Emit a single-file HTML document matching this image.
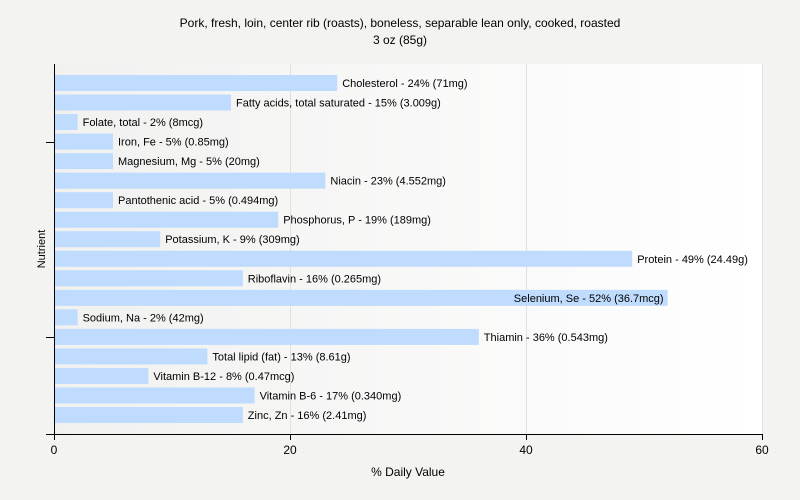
<!DOCTYPE html>
<html><head><meta charset="utf-8"><style>
html,body{margin:0;padding:0;background:#f3f3f2;font-family:"Liberation Sans",sans-serif;overflow:hidden;}
svg{display:block;}
svg text{font-family:"Liberation Sans",sans-serif;}
</style></head><body>
<svg width="800" height="500">
<defs><linearGradient id="bg" x1="0" x2="1" y1="0" y2="0"><stop offset="0" stop-color="#f1f1f0"/><stop offset="1" stop-color="#ffffff"/></linearGradient></defs>
<rect x="0" y="0" width="800" height="500" fill="#f3f3f2"/>
<text x="400" y="27" text-anchor="middle" font-size="12" fill="#000">Pork, fresh, loin, center rib (roasts), boneless, separable lean only, cooked, roasted</text>
<text x="400" y="44" text-anchor="middle" font-size="12" fill="#000">3 oz (85g)</text>
<rect x="54" y="64" width="708" height="370" fill="url(#bg)"/>
<g id="grid"></g>
<g id="bars"></g>
<line x1="54.5" y1="64" x2="54.5" y2="434" stroke="#000"/>
<line x1="46" y1="434.5" x2="762" y2="434.5" stroke="#000"/>
<line x1="46" y1="142.5" x2="54" y2="142.5" stroke="#000"/>
<line x1="46" y1="337.5" x2="54" y2="337.5" stroke="#000"/>
<g id="xticks"></g>
<text x="408" y="476" text-anchor="middle" font-size="12">% Daily Value</text>
<text x="45" y="249" text-anchor="middle" font-size="11" transform="rotate(-90 45 249)">Nutrient</text>
</svg>
<script>
const categories=["Cholesterol","Fatty acids, total saturated","Folate, total","Iron, Fe","Magnesium, Mg","Niacin","Pantothenic acid","Phosphorus, P","Potassium, K","Protein","Riboflavin","Selenium, Se","Sodium, Na","Thiamin","Total lipid (fat)","Vitamin B-12","Vitamin B-6","Zinc, Zn"];
const values=[24,15,2,5,5,23,5,19,9,49,16,52,2,36,13,8,17,16];
const amounts=["71mg","3.009g","8mcg","0.85mg","20mg","4.552mg","0.494mg","189mg","309mg","24.49g","0.265mg","36.7mcg","42mg","0.543mg","8.61g","0.47mcg","0.340mg","2.41mg"];
const ticks=[0,20,40,60];
const NS="http://www.w3.org/2000/svg";
const x=v=>54+v*(708/60);
const y=i=>75+i*19.53;
const grid=document.getElementById('grid'),bars=document.getElementById('bars'),xt=document.getElementById('xticks');
ticks.forEach(t=>{
  if(t>0){const l=document.createElementNS(NS,'line');
  l.setAttribute('x1',x(t)+0.5);l.setAttribute('x2',x(t)+0.5);l.setAttribute('y1',64);l.setAttribute('y2',434);
  l.setAttribute('stroke','#e0e0e0');
  
  
  grid.appendChild(l);}
  const tk=document.createElementNS(NS,'line');
  tk.setAttribute('x1',x(t)+0.5);tk.setAttribute('x2',x(t)+0.5);tk.setAttribute('y1',434);tk.setAttribute('y2',440);tk.setAttribute('stroke','#000');
  
  
  xt.appendChild(tk);
  const tx=document.createElementNS(NS,'text');
  tx.setAttribute('x',x(t));tx.setAttribute('y',454);tx.setAttribute('text-anchor','middle');tx.setAttribute('font-size','12');
  tx.textContent=t;
  
  
  xt.appendChild(tx);
});
categories.forEach((c,i)=>{
  const r=document.createElementNS(NS,'rect');
  r.setAttribute('x',55);r.setAttribute('y',y(i));r.setAttribute('width',x(values[i])-55);r.setAttribute('height',16);r.setAttribute('fill','#bfdbfd');
  
  
  bars.appendChild(r);
  const t=document.createElementNS(NS,'text');
  t.setAttribute('y',y(i)+12);t.setAttribute('font-size','11');
  t.textContent=c+" - "+values[i]+"% ("+amounts[i]+")";
  
  
  bars.appendChild(t);
  const w=t.getComputedTextLength();
  if(x(values[i])+5+w>762){t.setAttribute('x',x(values[i])-4);t.setAttribute('text-anchor','end');}
  else t.setAttribute('x',x(values[i])+5);
});
</script>
</body></html>
